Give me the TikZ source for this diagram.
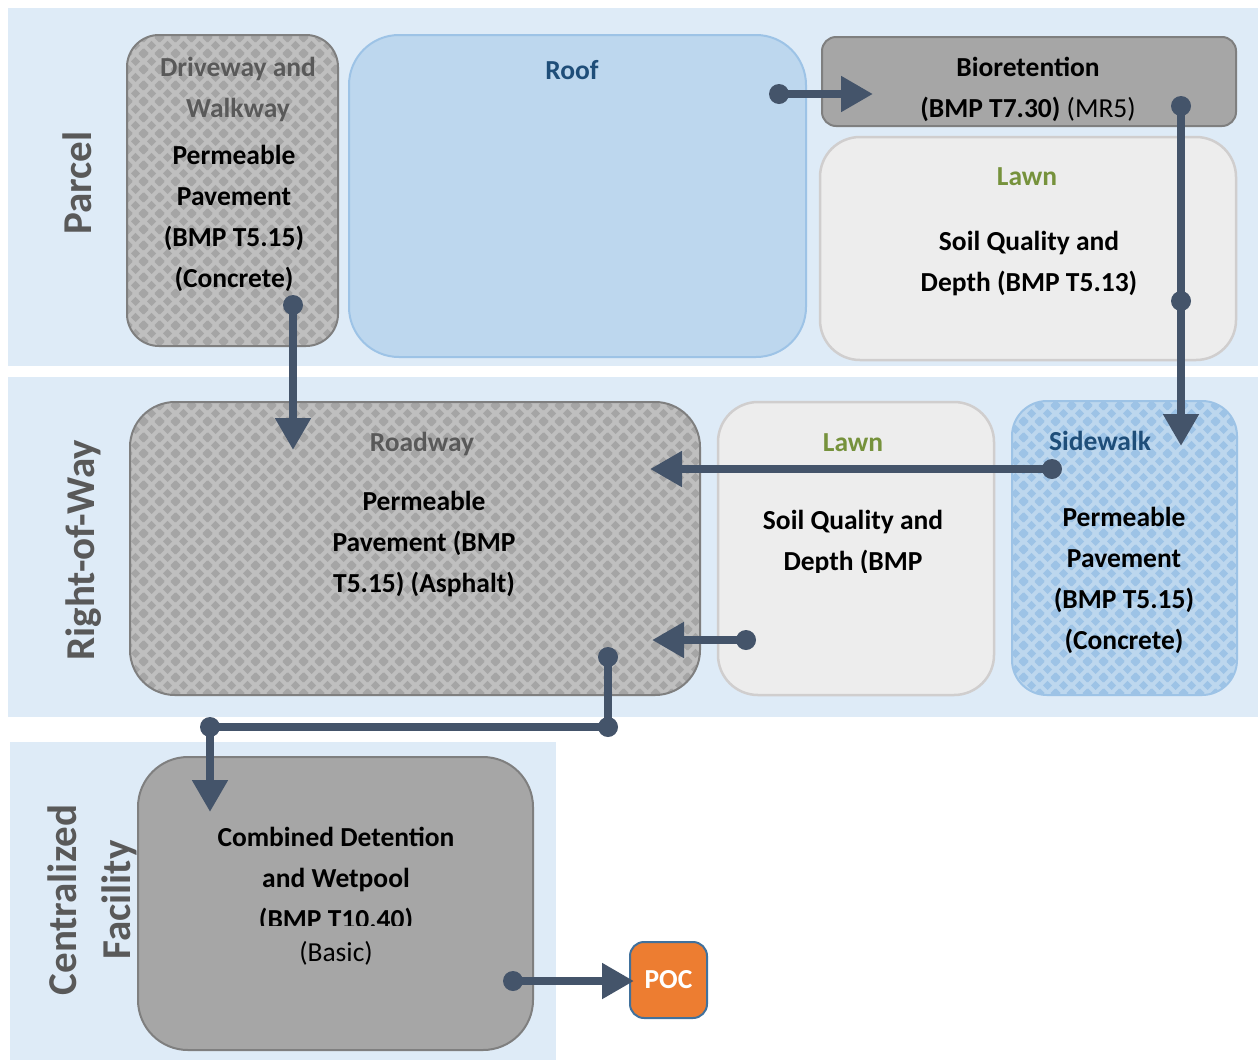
\documentclass[tikz,border=0pt]{standalone}
\usepackage{fontspec}
\setmainfont{Carlito}
\usetikzlibrary{arrows.meta,patterns}

\definecolor{zoneblue}{HTML}{DEEBF7}
\definecolor{roofblue}{HTML}{BDD7EE}
\definecolor{roofedge}{HTML}{9DC3E6}
\definecolor{navy}{HTML}{1F4E79}
\definecolor{pavegray}{HTML}{BFBFBF}
\definecolor{pavedots}{HTML}{A5A5A5}
\definecolor{boxgray}{HTML}{A6A6A6}
\definecolor{edgegray}{HTML}{7F7F7F}
\definecolor{lawnfill}{HTML}{EDEDED}
\definecolor{lawnedge}{HTML}{D0CECE}
\definecolor{lawngreen}{HTML}{76923C}
\definecolor{flowblue}{HTML}{44546A}
\definecolor{zonetext}{HTML}{595959}
\definecolor{pocorange}{HTML}{ED7D31}
\definecolor{pocedge}{HTML}{41719C}

% staggered diamonds for the paved areas
\pgfdeclarepatternformonly{paving}{\pgfpointorigin}{\pgfpoint{16pt}{16pt}}{\pgfpoint{16pt}{16pt}}{%
  \foreach \cx/\cy in {8/8,0/0,16/0,0/16,16/16}{%
    \pgfpathmoveto{\pgfpoint{\cx pt}{\cy pt-4.8pt}}%
    \pgfpathlineto{\pgfpoint{\cx pt+4.8pt}{\cy pt}}%
    \pgfpathlineto{\pgfpoint{\cx pt}{\cy pt+4.8pt}}%
    \pgfpathlineto{\pgfpoint{\cx pt-4.8pt}{\cy pt}}%
    \pgfpathclose}%
  \pgfusepath{fill}}

\tikzset{
  every node/.style={inner sep=0pt, outer sep=0pt},
  zone/.style={rectangle, fill=zoneblue},
  zonelabel/.style={rotate=90, text=zonetext, font=\fontsize{41}{45}\selectfont\bfseries},
  pavebox/.style={rectangle, rounded corners=#1, draw=edgegray, line width=2pt,
    preaction={fill=pavegray}, preaction={pattern=paving, pattern color=pavedots}},
  walkbox/.style={rectangle, rounded corners=#1, draw=roofedge, line width=2pt,
    preaction={fill=roofblue}, preaction={pattern=paving, pattern color=roofedge}},
  roofbox/.style={rectangle, rounded corners=#1, draw=roofedge, line width=2pt, fill=roofblue},
  bmpbox/.style={rectangle, rounded corners=#1, draw=edgegray, line width=2pt, fill=boxgray},
  lawnbox/.style={rectangle, rounded corners=#1, draw=lawnedge, line width=2.5pt, fill=lawnfill},
  bodytext/.style={align=center, font=\fontsize{27.5}{41}\selectfont\bfseries},
  plaintext/.style={align=center, font=\fontsize{27.5}{41}\selectfont},
  graytitle/.style={bodytext, text=zonetext},
  bluetitle/.style={bodytext, text=navy},
  greentitle/.style={bodytext, text=lawngreen},
  flow/.style={draw=flowblue, line width=8pt, -{Triangle[length=32pt,width=34pt]}},
  dot/.style={fill=flowblue}
}

\begin{document}
\begin{tikzpicture}[x=1pt, y=-1pt]
  \useasboundingbox (0,0) rectangle (1258,1061);

  % zones
  \node[zone, minimum width=1250pt, minimum height=358pt] (parcel) at (633,187) {};
  \node[zone, minimum width=1250pt, minimum height=340pt] (row) at (633,547) {};
  \node[zone, minimum width=546pt, minimum height=318pt] (central) at (283,901) {};

  \node[zonelabel] (parcelL) at (77,183) {Parcel};
  \node[zonelabel] (rowL) at (84,550) {Right-of-Way};
  \node[zonelabel] (centralL) at (62,900) {Centralized};
  \node[zonelabel] (facilityL) at (119,900) {Facility};

  % parcel
  \node[pavebox=32pt, minimum width=211pt, minimum height=311pt] (drive) at (232.5,190.5) {};
  \node[roofbox=50pt, minimum width=457pt, minimum height=322pt] (roof) at (577.5,196) {};
  \node[bmpbox=14pt, minimum width=414pt, minimum height=89pt] (bio) at (1029,81.5) {};
  \node[lawnbox=40pt, minimum width=416pt, minimum height=223pt] (lawnP) at (1028,248.5) {};

  \node[graytitle] (driveT) at (238,90) {Driveway and\\Walkway};
  \node[bodytext] (driveB) at (234,218.5) {Permeable\\Pavement\\(BMP T5.15)\\(Concrete)};
  \node[bluetitle] (roofT) at (572,70) {Roof};
  \node[bodytext] (bioB) at (1028,89.5) {Bioretention\\(BMP T7.30) \mdseries(MR5)};
  \node[greentitle] (lawnPT) at (1027,177) {Lawn};
  \node[bodytext] (lawnPB) at (1029,264) {Soil Quality and\\Depth (BMP T5.13)};

  % right-of-way
  \node[pavebox=45pt, minimum width=570pt, minimum height=293pt] (road) at (415,548.5) {};
  \node[lawnbox=40pt, minimum width=276pt, minimum height=293pt] (lawnR) at (856,548.5) {};
  \node[walkbox=35pt, minimum width=225pt, minimum height=294pt] (side) at (1124.5,548) {};

  \node[graytitle] (roadT) at (422,444) {Roadway};
  \node[bodytext] (roadB) at (424,544) {Permeable\\Pavement (BMP\\T5.15) (Asphalt)};
  \node[greentitle] (lawnRT) at (853,443) {Lawn};
  \begin{scope}
    \clip (lawnR.north west) rectangle (lawnR.east |- 0,572);
    \node[bodytext] (lawnRB) at (853,543) {Soil Quality and\\Depth (BMP};
  \end{scope}
  \node[bluetitle] (sideT) at (1100,441) {Sidewalk};
  \node[bodytext] (sideB) at (1124,580) {Permeable\\Pavement\\(BMP T5.15)\\(Concrete)};

  % centralized facility
  \node[bmpbox=50pt, minimum width=395pt, minimum height=293pt] (comb) at (335.5,903.5) {};
  \begin{scope}
    \clip (comb.north west) rectangle (comb.east |- 0,925);
    \node[bodytext] (combB) at (336,879.5) {Combined Detention\\and Wetpool\\(BMP T10.40)};
  \end{scope}
  \node[plaintext] (combN) at (336,953) {(Basic)};
  \node[rectangle, rounded corners=14pt, draw=pocedge, line width=2pt, fill=pocorange,
    minimum width=77pt, minimum height=76pt, text=white, font=\fontsize{27.5}{41}\selectfont\bfseries]
    (poc) at (668.5,980) {POC};

  % flow points
  \coordinate (roofOut) at (779,94);
  \coordinate (bioIn) at (873,94);
  \coordinate (bioOut) at (1181,106);
  \coordinate (lawnPOut) at (1181,301);
  \coordinate (sideIn) at (1181,446);
  \coordinate (sideOut) at (1052,469);
  \coordinate (roadInA) at (650,469);
  \coordinate (lawnROut) at (746,640);
  \coordinate (roadInB) at (652,640);
  \coordinate (driveOut) at (293,305);
  \coordinate (roadInC) at (293,450);
  \coordinate (roadOut) at (608,657);
  \coordinate (bendA) at (608,727);
  \coordinate (bendB) at (210,727);
  \coordinate (combIn) at (210,812);
  \coordinate (combOut) at (513,981);
  \coordinate (pocIn) at (634,981);

  \draw[flow] (roofOut) -- (bioIn);
  \draw[flow] (bioOut) -- (lawnPOut) -- (sideIn);
  \draw[flow] (sideOut) -- (roadInA);
  \draw[flow] (lawnROut) -- (roadInB);
  \draw[flow] (driveOut) -- (roadInC);
  \draw[flow] (roadOut) -- (bendA) -- (bendB) -- (combIn);
  \draw[flow] (combOut) -- (pocIn);

  \foreach \p in {roofOut,bioOut,lawnPOut,sideOut,lawnROut,driveOut,roadOut,bendA,bendB,combOut}
    \fill[dot] (\p) circle (10);
\end{tikzpicture}
\end{document}
